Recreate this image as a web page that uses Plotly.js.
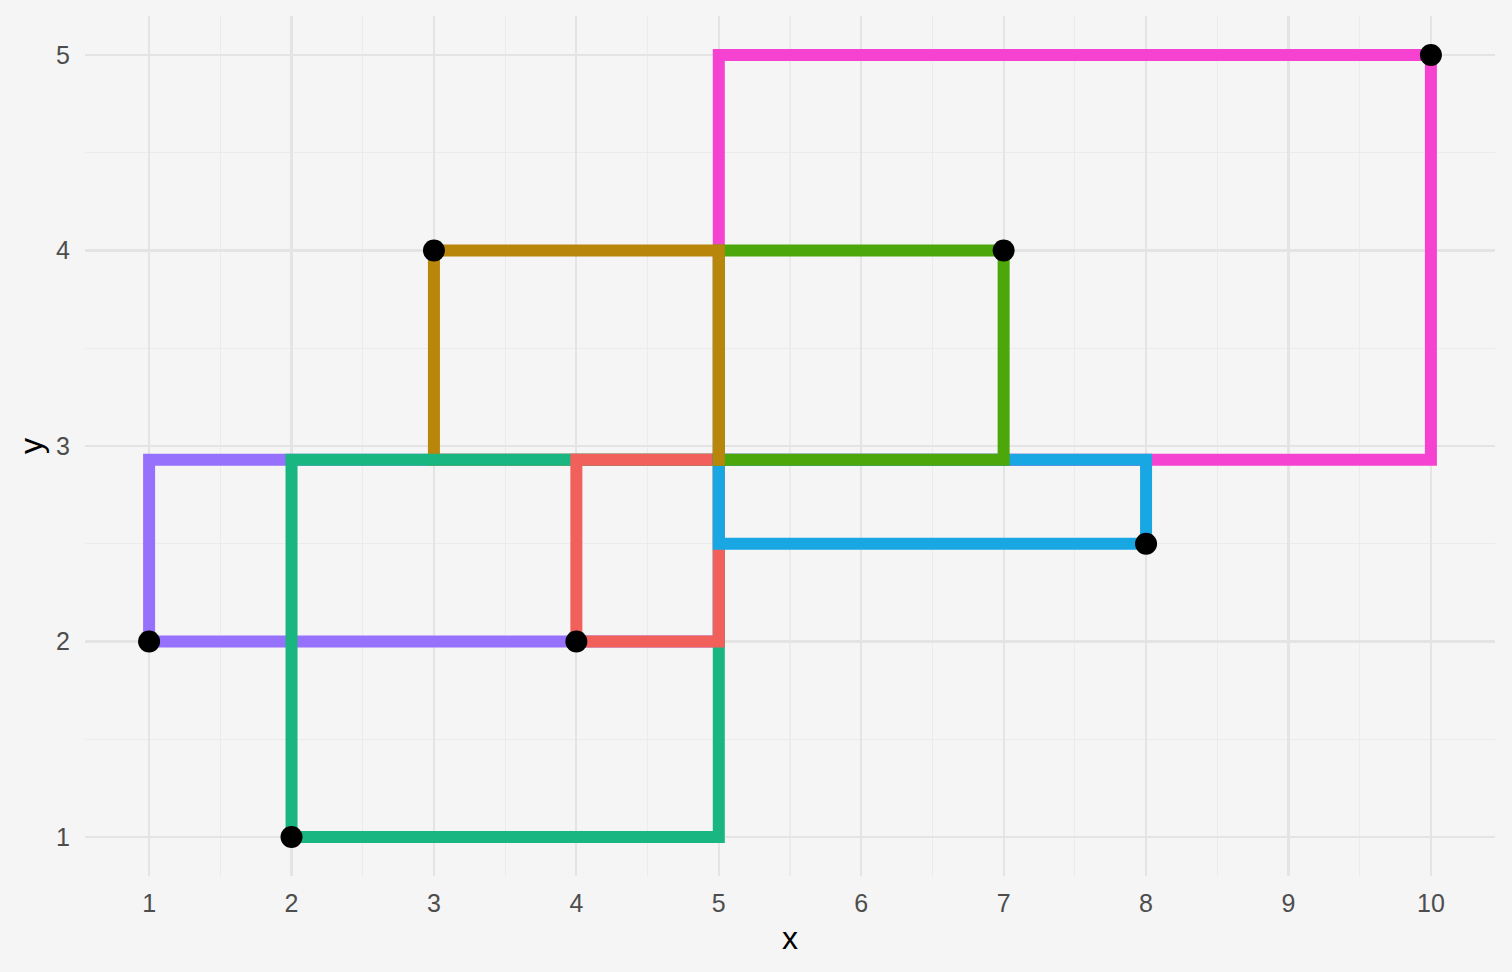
<!DOCTYPE html>
<html>
<head>
<meta charset="utf-8">
<script src="https://cdn.plot.ly/plotly-3.0.1.min.js"></script>
<style>html,body{margin:0;padding:0;background:#F5F5F5;}#chart{width:1512px;height:972px;}</style>
</head>
<body>
<div id="chart"></div>
<script>
// Data points, one per group
const groups = ["purple", "teal", "red", "gold", "green", "blue", "pink"];
const pointX = [1, 2, 4, 3, 7, 8, 10];
const pointY = [2, 1, 2, 4, 4, 2.5, 5];
const groupColors = {
  purple: "#9671FB", teal: "#1AB682", red: "#F2605B", gold: "#B8860B",
  green: "#4BA70A", blue: "#18A7E2", pink: "#F542D0"
};
// Hub (centre) point every group connects to
const hubX = 5;
const hubY = 2.93;
// Drawing order of the elbow pieces: "A" = vertical first, "B" = horizontal first
const pieceOrder = [
  ["purple", "B"], ["purple", "A"], ["gold", "A"], ["teal", "B"], ["teal", "A"],
  ["red", "A"], ["red", "B"], ["pink", "A"], ["pink", "B"], ["blue", "A"],
  ["blue", "B"], ["green", "A"], ["green", "B"], ["gold", "B"]
];
// Axis ticks
const xTicks = [1, 2, 3, 4, 5, 6, 7, 8, 9, 10];
const yTicks = [1, 2, 3, 4, 5];

const traces = [];
pieceOrder.forEach(([g, kind]) => {
  const i = groups.indexOf(g);
  const px = pointX[i], py = pointY[i];
  const xs = kind === "A" ? [px, px, hubX] : [px, hubX, hubX];
  const ys = kind === "A" ? [py, hubY, hubY] : [py, py, hubY];
  traces.push({
    type: "scatter", mode: "lines", name: g + kind, showlegend: false, hoverinfo: "skip",
    x: xs, y: ys,
    line: {color: groupColors[g], width: 12, shape: "linear"}
  });
});
traces.push({
  type: "scatter", mode: "markers", showlegend: false,
  x: pointX, y: pointY,
  marker: {color: "#000000", size: 22}
});

const gridMajor = "#E4E4E4";
const gridMinor = "#EBEBEB";
const layout = {
  width: 1512, height: 972,
  paper_bgcolor: "#F5F5F5", plot_bgcolor: "#F5F5F5",
  margin: {l: 85, r: 17, t: 16, b: 96},
  showlegend: false,
  font: {family: "Liberation Sans, Arial, sans-serif"},
  xaxis: {
    range: [0.55, 10.45], tickvals: xTicks, ticktext: xTicks.map(String),
    showgrid: true, gridcolor: gridMajor, gridwidth: 2.2, zeroline: false, showline: false,
    ticks: "", ticklabelstandoff: 10,
    tickfont: {size: 25, color: "#4D4D4D"},
    minor: {dtick: 0.5, tick0: 0, showgrid: true, gridcolor: gridMinor, gridwidth: 1.1},
    title: {text: "x", font: {size: 32, color: "#000000"}, standoff: 10}
  },
  yaxis: {
    range: [0.8, 5.2], tickvals: yTicks, ticktext: yTicks.map(String),
    showgrid: true, gridcolor: gridMajor, gridwidth: 2.2, zeroline: false, showline: false,
    ticks: "", ticklabelstandoff: 14,
    tickfont: {size: 25, color: "#4D4D4D"},
    minor: {dtick: 0.5, tick0: 0, showgrid: true, gridcolor: gridMinor, gridwidth: 1.1},
    title: {text: "y", font: {size: 32, color: "#000000"}, standoff: 3}
  }
};
Plotly.newPlot("chart", traces, layout, {staticPlot: true, displayModeBar: false}).then(() => {
  document.querySelectorAll("#chart .scatterlayer path.js-line").forEach(p => {
    p.style.strokeLinecap = "square";
    p.style.strokeLinejoin = "miter";
  });
});
</script>
</body>
</html>
